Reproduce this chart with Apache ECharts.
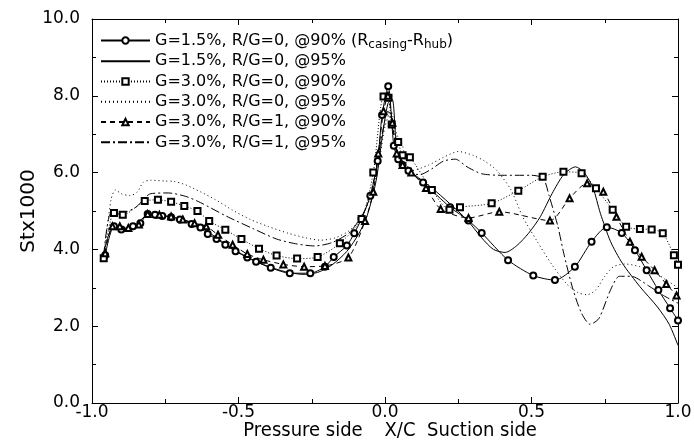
<!DOCTYPE html>
<html>
<head>
<meta charset="utf-8">
<script src="https://cdn.jsdelivr.net/npm/echarts@6/dist/echarts.min.js"></script>
<style>
  html, body { margin: 0; padding: 0; background: #fff; }
  #chart { width: 694px; height: 440px; }
</style>
</head>
<body>
<div id="chart"></div>
<script>
// series names (legend)
const names = [
    'G=1.5%, R/G=0, @90%',
    'G=1.5%, R/G=0, @95%',
    'G=3.0%, R/G=0, @90%',
    'G=3.0%, R/G=0, @95%',
    'G=3.0%, R/G=1, @90%',
    'G=3.0%, R/G=1, @95%'
];

// G=1.5%, R/G=0, @90%  (circles)
const s1 = [
    [-0.955, 3.85], [-0.925, 4.6], [-0.9, 4.52], [-0.86, 4.6], [-0.835, 4.68], [-0.81, 4.92],
    [-0.785, 4.9], [-0.76, 4.87], [-0.73, 4.84], [-0.7, 4.78], [-0.66, 4.66], [-0.63, 4.57],
    [-0.605, 4.4], [-0.575, 4.27], [-0.545, 4.12], [-0.51, 3.95], [-0.47, 3.79], [-0.44, 3.68],
    [-0.39, 3.52], [-0.325, 3.38], [-0.255, 3.38], [-0.205, 3.55], [-0.175, 3.8], [-0.13, 4.1],
    [-0.105, 4.42], [-0.08, 4.8], [-0.05, 5.4], [-0.025, 6.3], [-0.01, 7.5], [0.011, 8.25],
    [0.03, 6.7], [0.045, 6.35], [0.06, 6.2], [0.08, 6.05], [0.13, 5.74], [0.222, 5.1],
    [0.285, 4.75], [0.33, 4.43], [0.42, 3.72], [0.506, 3.32], [0.58, 3.2], [0.648, 3.55],
    [0.705, 4.2], [0.757, 4.58], [0.808, 4.43], [0.853, 3.98], [0.893, 3.46], [0.933, 2.94],
    [0.973, 2.47], [1.0, 2.15]
];

// G=1.5%, R/G=0, @95%  (solid)
const s2 = [
    [-0.96, 3.9], [-0.93, 4.55], [-0.9, 4.5], [-0.86, 4.58], [-0.82, 4.85], [-0.78, 4.9],
    [-0.73, 4.85], [-0.68, 4.75], [-0.63, 4.58], [-0.58, 4.33], [-0.52, 4.02], [-0.46, 3.76],
    [-0.4, 3.56], [-0.34, 3.42], [-0.28, 3.35], [-0.23, 3.4], [-0.18, 3.6], [-0.13, 3.95],
    [-0.09, 4.4], [-0.06, 4.9], [-0.03, 5.8], [-0.01, 6.9], [0.01, 7.8], [0.025, 7.9],
    [0.04, 6.6], [0.06, 6.2], [0.1, 5.95], [0.16, 5.6], [0.22, 5.2], [0.28, 4.77],
    [0.33, 4.3], [0.37, 4.0], [0.41, 3.92], [0.45, 4.1], [0.49, 4.42], [0.53, 4.85],
    [0.57, 5.45], [0.61, 5.95], [0.65, 6.15], [0.68, 6.0], [0.71, 5.6], [0.735, 4.94],
    [0.77, 4.2], [0.81, 3.64], [0.87, 3.03], [0.93, 2.5], [0.97, 2.05], [1.0, 1.5]
];

// G=3.0%, R/G=0, @90%  (squares)
const s3 = [
    [-0.96, 3.77], [-0.925, 4.95], [-0.895, 4.9], [-0.82, 5.26], [-0.775, 5.29], [-0.73, 5.24],
    [-0.685, 5.13], [-0.64, 5.0], [-0.6, 4.74], [-0.545, 4.51], [-0.49, 4.27], [-0.43, 4.02],
    [-0.37, 3.84], [-0.3, 3.76], [-0.23, 3.8], [-0.154, 4.16], [-0.08, 4.79], [-0.04, 6.0],
    [-0.005, 7.98], [0.012, 7.95], [0.023, 7.25], [0.045, 6.8], [0.06, 6.45], [0.085, 6.4],
    [0.16, 5.55], [0.22, 5.03], [0.256, 5.1], [0.364, 5.2], [0.455, 5.53], [0.538, 5.89],
    [0.609, 6.02], [0.671, 5.98], [0.72, 5.59], [0.777, 5.03], [0.823, 4.59], [0.87, 4.53],
    [0.91, 4.52], [0.948, 4.42], [0.986, 3.85], [1.0, 3.6]
];

// G=3.0%, R/G=0, @95%  (dotted)
const s4 = [
    [-0.96, 3.8], [-0.935, 5.3], [-0.92, 5.55], [-0.9, 5.45], [-0.87, 5.4], [-0.845, 5.5],
    [-0.825, 5.75], [-0.8, 5.8], [-0.75, 5.78], [-0.72, 5.77], [-0.68, 5.68], [-0.63, 5.5],
    [-0.58, 5.3], [-0.52, 5.02], [-0.46, 4.78], [-0.4, 4.6], [-0.33, 4.42], [-0.27, 4.3],
    [-0.22, 4.24], [-0.17, 4.3], [-0.12, 4.5], [-0.08, 4.85], [-0.05, 5.35], [-0.02, 6.3],
    [0.0, 7.2], [0.02, 7.6], [0.04, 7.0], [0.06, 6.7], [0.07, 6.3], [0.09, 6.05],
    [0.15, 6.2], [0.2, 6.4], [0.25, 6.55], [0.3, 6.45], [0.34, 6.3], [0.38, 6.07],
    [0.43, 5.55], [0.47, 4.85], [0.52, 4.2], [0.57, 3.6], [0.62, 3.1], [0.66, 2.87],
    [0.69, 2.82], [0.72, 2.95], [0.75, 3.3], [0.78, 3.55], [0.82, 3.62], [0.87, 3.55],
    [0.92, 3.4], [0.96, 3.2], [1.0, 3.0]
];

// G=3.0%, R/G=1, @90%  (triangles)
const s5 = [
    [-0.955, 3.9], [-0.93, 4.6], [-0.905, 4.6], [-0.876, 4.56], [-0.84, 4.65], [-0.81, 4.92],
    [-0.77, 4.9], [-0.73, 4.86], [-0.69, 4.78], [-0.65, 4.68], [-0.61, 4.6], [-0.57, 4.38],
    [-0.52, 4.12], [-0.47, 3.88], [-0.415, 3.73], [-0.347, 3.61], [-0.276, 3.55], [-0.205, 3.57],
    [-0.125, 3.79], [-0.068, 4.74], [-0.04, 5.5], [-0.023, 6.5], [-0.005, 7.6], [0.01, 8.0],
    [0.025, 7.3], [0.04, 6.5], [0.06, 6.2], [0.09, 6.0], [0.14, 5.6], [0.19, 5.05],
    [0.285, 4.82], [0.39, 4.98], [0.563, 4.75], [0.63, 5.33], [0.69, 5.72], [0.745, 5.5],
    [0.79, 4.85], [0.836, 4.2], [0.876, 3.81], [0.92, 3.46], [0.96, 3.1], [0.995, 2.8]
];

// G=3.0%, R/G=1, @95%  (dash-dot)
const s6 = [
    [-0.96, 3.85], [-0.935, 4.95], [-0.9, 4.95], [-0.85, 5.1], [-0.8, 5.45], [-0.74, 5.47],
    [-0.68, 5.38], [-0.63, 5.22], [-0.54, 4.86], [-0.45, 4.54], [-0.37, 4.27], [-0.3, 4.14],
    [-0.24, 4.09], [-0.18, 4.18], [-0.12, 4.45], [-0.07, 5.0], [-0.035, 5.9], [-0.01, 7.0],
    [0.01, 7.6], [0.03, 7.0], [0.05, 6.3], [0.08, 6.0], [0.12, 5.95], [0.16, 6.1],
    [0.2, 6.3], [0.24, 6.35], [0.28, 6.15], [0.33, 5.97], [0.4, 5.93], [0.5, 5.93],
    [0.54, 5.85], [0.56, 5.4], [0.59, 4.6], [0.61, 3.9], [0.64, 3.0], [0.67, 2.35],
    [0.7, 2.05], [0.73, 2.2], [0.77, 2.95], [0.8, 3.3], [0.84, 3.3], [0.9, 3.05],
    [0.95, 2.8], [1.0, 2.6]
];

const seriesData = [s1, s2, s3, s4, s5, s6];
const symbols = ['emptyCircle', 'none', 'emptyRect', 'none', 'emptyTriangle', 'none'];
const dashes = ['solid', 'solid', [1, 2], [1, 3], [5, 4], [9, 3, 2, 3]];

const font = '"DejaVu Sans", "Liberation Sans", sans-serif';
const narrow = '"Liberation Sans Narrow", "DejaVu Sans Condensed", sans-serif';

const chart = echarts.init(document.getElementById('chart'));

function axisBase(extra) {
    return Object.assign({
        type: 'value',
        axisLine: { show: true, onZero: false, lineStyle: { color: '#000', width: 1 } },
        axisTick: { show: true, inside: true, length: 6, lineStyle: { color: '#000' } },
        minorTick: { show: true, splitNumber: 2, length: 4, lineStyle: { color: '#000' } },
        splitLine: { show: false },
        axisLabel: { show: false }
    }, extra);
}

// legend entries: lines without markers get an invisible symbol
const legendData = names.map((n, i) => symbols[i] === 'none'
    ? { name: n, itemStyle: { opacity: 0 } }
    : { name: n });

const option = {
    animation: false,
    backgroundColor: '#fff',
    grid: { left: 92, right: 16, top: 19, bottom: 37, containLabel: false, outerBoundsMode: 'none' },
    legend: {
        orient: 'vertical',
        left: 100,
        top: 30,
        padding: 0,
        itemWidth: 49,
        itemHeight: 8,
        itemGap: 0,
        data: legendData,
        textStyle: {
            color: '#000',
            fontFamily: font,
            fontSize: 16,
            lineHeight: 20.3,
            rich: {
                sub: { fontSize: 12, fontFamily: font, color: '#000', lineHeight: 20.3, padding: [9, 0, 0, 0] }
            }
        },
        formatter: function(name) {
            return name === names[0] ? name + ' (R{sub|casing}-R{sub|hub})' : name;
        }
    },
    xAxis: [
        axisBase({
            min: -1, max: 1, interval: 0.5, position: 'bottom',
            axisLabel: {
                show: true, color: '#000', fontFamily: font, fontSize: 17, margin: 1,
                formatter: v => v.toFixed(1)
            },
            name: '{p|Pressure side}{x|X/C}{s|Suction side}',
            nameLocation: 'middle',
            nameGap: 18,
            nameMoveOverlap: false,
            nameTextStyle: {
                color: '#000', fontFamily: narrow, fontSize: 20,
                rich: {
                    p: { width: 154, align: 'center', fontFamily: narrow, fontSize: 20, color: '#000' },
                    x: { width: 40, align: 'center', fontFamily: narrow, fontSize: 20, color: '#000' },
                    s: { width: 124, align: 'center', fontFamily: narrow, fontSize: 20, color: '#000' }
                }
            }
        }),
        axisBase({ min: -1, max: 1, interval: 0.5, position: 'top' })
    ],
    yAxis: [
        axisBase({
            min: 0, max: 10, interval: 2, position: 'left',
            axisLabel: {
                show: true, color: '#000', fontFamily: font, fontSize: 17, margin: 12,
                formatter: v => v.toFixed(1)
            },
            name: 'Stx1000',
            nameLocation: 'middle',
            nameGap: 53,
            nameMoveOverlap: false,
            nameTextStyle: { color: '#000', fontFamily: font, fontSize: 20 }
        }),
        axisBase({ min: 0, max: 10, interval: 2, position: 'right' })
    ],
    series: seriesData.map((d, i) => ({
        name: names[i],
        type: 'line',
        data: d,
        smooth: 0.25,
        symbol: symbols[i],
        symbolSize: 6,
        showSymbol: symbols[i] !== 'none',
        showAllSymbol: true,
        lineStyle: { color: '#000', width: 1, type: dashes[i] },
        itemStyle: { color: '#000', borderColor: '#000', borderWidth: 1 }
    }))
};

chart.setOption(option);
</script>
</body>
</html>
